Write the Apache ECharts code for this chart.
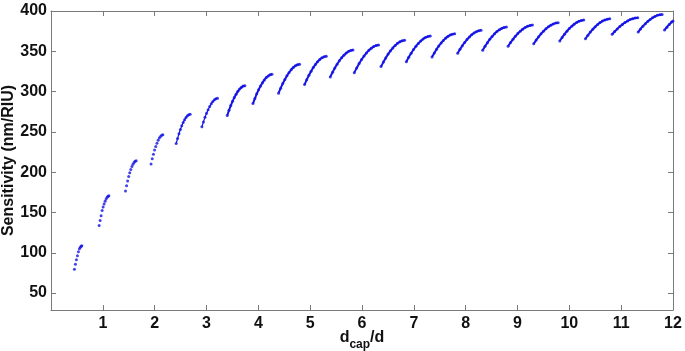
<!DOCTYPE html>
<html><head><meta charset="utf-8">
<script src="https://cdn.jsdelivr.net/npm/echarts@6/dist/echarts.min.js"></script>
<style>html,body{margin:0;padding:0;background:#fff}#c{width:685px;height:351px}</style>
</head><body><div id="c"></div>
<script>
// Each segment: [d_cap/d, sensitivity (nm/RIU)] points
const seg01 = [[0.452,79.7],[0.471,85.9],[0.490,91.3],[0.510,96.3],[0.529,101.2],[0.548,105.0],[0.568,106.9],[0.581,108.2],[0.595,108.7]];
const seg02 = [[0.929,133.8],[0.948,140.0],[0.967,145.8],[0.986,152.4],[1.006,156.9],[1.025,160.6],[1.044,163.9],[1.064,166.8],[1.083,168.8],[1.102,170.0],[1.116,170.9]];
const seg03 = [[1.437,176.7],[1.458,183.2],[1.478,189.1],[1.499,194.5],[1.519,199.2],[1.540,203.4],[1.561,207.0],[1.581,209.9],[1.602,212.1],[1.622,213.6],[1.643,214.2]];
const seg04 = [[1.930,210.3],[1.953,216.6],[1.976,222.3],[1.998,227.4],[2.021,232.0],[2.044,236.0],[2.067,239.5],[2.090,242.3],[2.112,244.4],[2.135,245.8],[2.158,246.4]];
const seg05 = [[2.415,235.6],[2.442,241.9],[2.469,247.7],[2.496,252.9],[2.523,257.5],[2.550,261.6],[2.577,265.0],[2.604,267.9],[2.631,270.0],[2.658,271.4],[2.685,272.0]];
const seg06 = [[2.911,256.3],[2.941,262.4],[2.971,268.1],[3.001,273.1],[3.031,277.6],[3.062,281.6],[3.092,285.0],[3.122,287.8],[3.152,289.9],[3.182,291.2],[3.212,291.8]];
const seg07 = [[3.400,270.3],[3.434,276.7],[3.468,282.6],[3.502,287.9],[3.536,292.6],[3.571,296.8],[3.605,300.3],[3.639,303.2],[3.673,305.4],[3.707,306.8],[3.741,307.4]];
const seg08 = [[3.896,285.1],[3.933,291.4],[3.969,297.2],[4.006,302.4],[4.043,307.0],[4.080,311.1],[4.116,314.5],[4.153,317.4],[4.190,319.5],[4.226,320.9],[4.263,321.5]];
const seg09 = [[4.390,298.0],[4.431,304.2],[4.471,309.9],[4.512,315.1],[4.552,319.6],[4.593,323.7],[4.633,327.1],[4.674,329.9],[4.714,332.0],[4.755,333.4],[4.795,334.0]];
const seg10 = [[4.892,308.7],[4.934,314.8],[4.976,320.3],[5.018,325.3],[5.060,329.8],[5.102,333.7],[5.143,337.1],[5.185,339.8],[5.227,341.9],[5.269,343.2],[5.311,343.8]];
const seg11 = [[5.388,318.2],[5.432,324.0],[5.476,329.3],[5.519,334.0],[5.563,338.3],[5.607,342.0],[5.651,345.2],[5.695,347.8],[5.738,349.8],[5.782,351.1],[5.826,351.6]];
const seg12 = [[5.851,323.5],[5.898,329.4],[5.945,334.9],[5.992,339.8],[6.039,344.1],[6.086,348.0],[6.132,351.2],[6.179,353.9],[6.226,355.9],[6.273,357.3],[6.320,357.8]];
const seg13 = [[6.367,331.0],[6.413,336.6],[6.458,341.8],[6.504,346.5],[6.549,350.6],[6.595,354.2],[6.640,357.3],[6.686,359.9],[6.731,361.8],[6.777,363.1],[6.822,363.6]];
const seg14 = [[6.855,337.1],[6.901,342.6],[6.948,347.6],[6.994,352.2],[7.040,356.2],[7.087,359.8],[7.133,362.8],[7.179,365.3],[7.225,367.2],[7.272,368.4],[7.318,368.9]];
const seg15 = [[7.351,343.0],[7.395,348.0],[7.438,352.5],[7.482,356.7],[7.526,360.3],[7.570,363.5],[7.613,366.3],[7.657,368.5],[7.701,370.2],[7.744,371.3],[7.788,371.8]];
const seg16 = [[7.845,347.5],[7.890,352.4],[7.935,356.9],[7.981,361.0],[8.026,364.6],[8.071,367.8],[8.116,370.5],[8.161,372.8],[8.207,374.4],[8.252,375.5],[8.297,376.0]];
const seg17 = [[8.328,351.2],[8.374,356.2],[8.420,360.7],[8.465,364.9],[8.511,368.5],[8.557,371.7],[8.603,374.5],[8.649,376.7],[8.694,378.4],[8.740,379.5],[8.786,380.0]];
const seg18 = [[8.818,356.2],[8.865,360.8],[8.912,364.9],[8.959,368.7],[9.006,372.0],[9.053,375.0],[9.100,377.5],[9.147,379.5],[9.194,381.1],[9.241,382.1],[9.288,382.5]];
const seg19 = [[9.313,359.4],[9.360,363.9],[9.407,368.0],[9.454,371.7],[9.501,375.0],[9.549,377.9],[9.596,380.4],[9.643,382.4],[9.690,384.0],[9.737,385.0],[9.784,385.4]];
const seg20 = [[9.815,362.7],[9.861,367.2],[9.908,371.3],[9.954,375.0],[10.000,378.3],[10.047,381.2],[10.093,383.7],[10.139,385.7],[10.185,387.3],[10.232,388.3],[10.278,388.7]];
const seg21 = [[10.311,365.6],[10.358,369.9],[10.405,373.8],[10.452,377.3],[10.499,380.4],[10.546,383.2],[10.592,385.6],[10.639,387.5],[10.686,388.9],[10.733,389.9],[10.780,390.3]];
const seg22 = [[10.826,371.0],[10.875,374.6],[10.925,377.8],[10.974,380.8],[11.024,383.4],[11.073,385.7],[11.122,387.6],[11.172,389.3],[11.221,390.5],[11.271,391.3],[11.320,391.6]];
const seg23 = [[11.328,373.9],[11.374,377.7],[11.420,381.2],[11.467,384.3],[11.513,387.1],[11.559,389.5],[11.605,391.6],[11.651,393.3],[11.698,394.6],[11.744,395.4],[11.790,395.8]];
const seg24 = [[11.836,376.3],[11.882,379.9],[11.928,383.3],[11.974,386.3],[12.000,387.6]];

const xTicks = [1,2,3,4,5,6,7,8,9,10,11,12];
const yTicks = [50,100,150,200,250,300,350,400];

const segments = [seg01,seg02,seg03,seg04,seg05,seg06,seg07,seg08,seg09,seg10,seg11,seg12,
                  seg13,seg14,seg15,seg16,seg17,seg18,seg19,seg20,seg21,seg22,seg23,seg24];

const BLUE = '#1414e6';
const AX = '#7a7a7a';
const FONT = '"Liberation Sans", Arial, Helvetica, sans-serif';

const series = [];
segments.forEach((d, i) => {
  if (i >= 4) {
    series.push({type:'line', data:d, symbol:'none', showSymbol:false, silent:true,
      lineStyle:{color:BLUE, width: i >= 6 ? 2 : 1.2}, clip:true, z:2});
  }
  series.push({type:'scatter', data:d, symbol:'circle', symbolSize:3, silent:true,
    itemStyle:{color:BLUE}, clip:true, z:3});
});

const tickLine = {color:AX, width:1};
const chart = echarts.init(document.getElementById('c'), null, {renderer:'canvas'});
chart.setOption({
  animation:false,
  backgroundColor:'#fff',
  grid:{left:51, right:12, top:11, bottom:41, containLabel:false, outerBoundsMode:'none'},
  xAxis:[
    {type:'value', min:0, max:12, position:'bottom',
     axisLine:{show:true, onZero:false, lineStyle:tickLine},
     axisTick:{show:true, inside:true, length:5, customValues:xTicks, lineStyle:tickLine},
     axisLabel:{show:true, customValues:xTicks, color:'#111', fontSize:16, fontWeight:'bold', fontFamily:FONT, margin:6},
     splitLine:{show:false},
     name:'{d|d}{s|cap}{d|/d}', nameLocation:'middle', nameGap:20, nameMoveOverlap:false,
     nameTextStyle:{color:'#111', fontFamily:FONT, fontWeight:'bold', fontSize:16,
       rich:{
         d:{fontSize:16, fontWeight:'bold', fontFamily:FONT, color:'#111', lineHeight:21, verticalAlign:'top'},
         s:{fontSize:12, fontWeight:'bold', fontFamily:FONT, color:'#111', lineHeight:21, verticalAlign:'bottom'}
       }}
    },
    {type:'value', min:0, max:12, position:'top',
     axisLine:{show:true, onZero:false, lineStyle:tickLine},
     axisTick:{show:true, inside:true, length:5, customValues:xTicks, lineStyle:tickLine},
     axisLabel:{show:false}, splitLine:{show:false}}
  ],
  yAxis:[
    {type:'value', min:29, max:400, position:'left',
     axisLine:{show:true, onZero:false, lineStyle:tickLine},
     axisTick:{show:true, inside:true, length:5, customValues:yTicks, lineStyle:tickLine},
     axisLabel:{show:true, customValues:yTicks, color:'#111', fontSize:16, fontWeight:'bold', fontFamily:FONT, margin:4},
     splitLine:{show:false},
     name:'Sensitivity (nm/RIU)', nameLocation:'middle', nameGap:34, nameMoveOverlap:false,
     nameTextStyle:{color:'#111', fontFamily:FONT, fontWeight:'bold', fontSize:16}
    },
    {type:'value', min:29, max:400, position:'right',
     axisLine:{show:true, onZero:false, lineStyle:tickLine},
     axisTick:{show:true, inside:true, length:5, customValues:yTicks, lineStyle:tickLine},
     axisLabel:{show:false}, splitLine:{show:false}}
  ],
  series: series
});
</script>
</body></html>
